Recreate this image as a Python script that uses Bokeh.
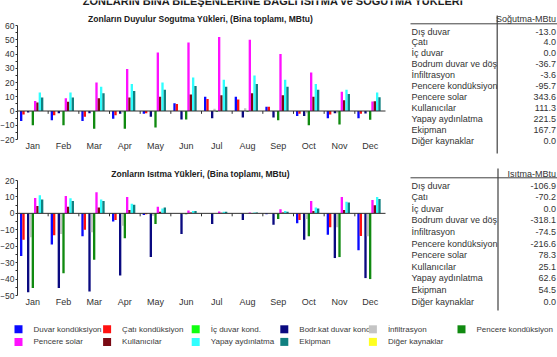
from bokeh.plotting import figure
from bokeh.models import (ColumnDataSource, Range1d, FixedTicker, LinearAxis, LinearScale)
from bokeh.transform import dodge
from bokeh.core.properties import value
from bokeh.embed import file_html
from bokeh.resources import INLINE

# ---------------------------------------------------------------- data
months = ["Jan", "Feb", "Mar", "Apr", "May", "Jun",
          "Jul", "Aug", "Sep", "Oct", "Nov", "Dec"]

legend_labels = ["Duvar kondüksiyon", "Çatı kondüksiyon", "İç duvar kond.",
                 "Bodr.kat duvar kond", "İnfiltrasyon", "Pencere kondüksiyon",
                 "Pencere solar", "Kullanıcılar", "Yapay aydınlatma", "Ekipman",
                 "Diğer kaynaklar"]

table_labels = ["Dış duvar", "Çatı", "İç duvar", "Bodrum duvar ve döş",
                "İnfiltrasyon", "Pencere kondüksiyon", "Pencere solar",
                "Kullanıcılar", "Yapay aydınlatma", "Ekipman", "Diğer kaynaklar"]

# sensible cooling loads by month (MBtu)
cool_duvar = [-7, -6.5, -7, -5.5, -2, 5.5, 10, 10, 3, -3.5, -5, -5]
cool_cati = [-2.5, -3, -4, -3, -1.5, 5, 8.5, 8, 3, -2, -2.5, -2]
cool_ic = [0] * 12
cool_bodrum = [-1, -1.5, -1.5, -2, -4, -6, -5, -4.5, -4.5, -3.5, -1.5, -1.7]
cool_infil = [-0.5, -0.5, -0.5, -1, -0.5, -0.5, 1.5, 2, -0.5, -1.5, -1.5, -0.1]
cool_pkond = [-10, -10, -12.5, -12.5, -11.5, -6, -0.5, -0.5, -6.5, -10, -9.5, -6.2]
cool_solar = [7, 9, 20, 29.5, 41, 48, 52, 50, 40, 27, 13.5, 6.6]
cool_kull = [6, 6.5, 9, 9.5, 10, 11.5, 11, 12.5, 11, 10, 7.5, 6.8]
cool_yapay = [13, 13, 17, 19, 20, 23.5, 22, 25, 22, 19, 15, 13]
cool_ekip = [9.5, 9.5, 12.5, 14, 15, 17.5, 17, 19, 17, 15, 12, 9.7]
cool_diger = [0] * 12

# heating loads by month (MBtu)
heat_duvar = [-26, -19, -14, -5, -1, 0, 0, 0, -0.5, -6, -13, -22.4]
heat_cati = [-16, -13.4, -10, -4, -0.5, 0, 0, 0, 0, -4, -8.5, -13.8]
heat_ic = [0] * 12
heat_bodrum = [-48, -45.5, -47.5, -37.8, -26.6, -12.6, -6.5, -4, -7, -16, -27.2, -39.4]
heat_infil = [-14.5, -12.5, -11.5, -7.5, -1.5, -0.5, 0, 0, -0.5, -3.5, -8.5, -14]
heat_pkond = [-45.5, -36.5, -28.3, -15.2, -6.5, -0.5, 0, 0, -3.5, -14, -26.6, -40]
heat_solar = [9.3, 10.5, 12.8, 10, 4, 1.8, 1.2, 0.5, 2.5, 7.5, 10, 8.2]
heat_kull = [4.5, 4, 3.6, 2, 1, 0.5, 0.3, 0.2, 0.5, 1.5, 2.0, 5]
heat_yapay = [11, 9.2, 8.5, 5.9, 3, 1.5, 1, 0.5, 1.5, 3.5, 7, 10]
heat_ekip = [8.4, 7.5, 7.5, 5.2, 3.5, 1.5, 1, 0.5, 1, 3, 6.6, 8.8]
heat_diger = [0] * 12

# annual totals shown in the side tables
cool_totals = [-13.0, 4.0, 0.0, -36.7, -3.6, -95.7, 343.6, 111.3, 221.5, 167.7, 0.0]
heat_totals = [-106.9, -70.2, 0.0, -318.1, -74.5, -216.6, 78.3, 25.1, 62.6, 54.5, 0.0]

cool_ticks = [-20, -10, 0, 10, 20, 30, 40, 50, 60]
heat_ticks = [-50, -40, -30, -20, -10, 0, 10, 20]

colors = ["#0a0aff", "#ff1010", "#10ff10", "#0a0a80", "#c4c4c4", "#108a10",
          "#ff10ff", "#7a0a14", "#30ffff", "#108080", "#ffff20"]

cool_series = [cool_duvar, cool_cati, cool_ic, cool_bodrum, cool_infil, cool_pkond,
               cool_solar, cool_kull, cool_yapay, cool_ekip, cool_diger]
heat_series = [heat_duvar, heat_cati, heat_ic, heat_bodrum, heat_infil, heat_pkond,
               heat_solar, heat_kull, heat_yapay, heat_ekip, heat_diger]

# ---------------------------------------------------------------- page geometry
W, H = 557, 357
FONT = value("Liberation Sans")
TXT = "#333333"
BAR_W = 0.076
PLOT_L, PLOT_R = 17, 385                     # page x of both chart areas
MONTH_PX = (PLOT_R - PLOT_L) / len(months)   # width of one month group
month_pos = [i + 0.5 for i in range(len(months))]


def page_range(v_top, px_top, v_bot, px_bot):
    """Value range that puts v_top at page row px_top and v_bot at px_bot."""
    k = (v_top - v_bot) / (px_bot - px_top)
    return Range1d(v_bot - (H - px_bot) * k, v_top + px_top * k)


p = figure(width=W, height=H, output_backend="svg", toolbar_location=None,
           title=None, min_border=0, x_axis_location=None, y_axis_location=None,
           x_range=Range1d(-PLOT_L / MONTH_PX, (W - PLOT_L) / MONTH_PX),
           y_range=Range1d(H, 0))
p.xgrid.visible = False
p.ygrid.visible = False
p.outline_line_color = None
# page-pixel x for the texts around the charts
p.extra_x_ranges = {"px": Range1d(0, W)}
p.extra_x_scales = {"px": LinearScale()}
p.extra_y_ranges = {"cool": page_range(60, 25, -20, 139),
                    "heat": page_range(20, 180, -50, 295)}
p.extra_y_scales = {"cool": LinearScale(), "heat": LinearScale()}


def draw_chart(name, series, lo, hi, ticks, tick_len):
    data = {"pos": month_pos}
    for i, vals in enumerate(series):
        data[f"s{i}"] = vals
    src = ColumnDataSource(data)
    for i, c in enumerate(colors):
        p.vbar(x=dodge("pos", (i - 5) * BAR_W), top=f"s{i}", bottom=0, width=BAR_W,
               source=src, fill_color=c, line_color=None, y_range_name=name)
    # zero line with small ticks between month groups
    p.segment(x0=[0], x1=[len(months)], y0=[0], y1=[0], line_color="#303030",
              line_width=1, y_range_name=name)
    tsrc = ColumnDataSource(dict(pos=month_pos[1:], y0=[0] * 11, y1=[-tick_len] * 11))
    p.segment(x0=dodge("pos", -0.5), x1=dodge("pos", -0.5), y0="y0", y1="y1",
              source=tsrc, line_color="#303030", line_width=1, y_range_name=name)

    ya = LinearAxis(y_range_name=name, fixed_location=0, bounds=(lo, hi),
                    ticker=FixedTicker(ticks=ticks, minor_ticks=[t + 5 for t in ticks[:-1]]))
    ya.axis_line_color = "#303030"
    ya.major_tick_line_color = "#303030"
    ya.minor_tick_line_color = "#303030"
    ya.major_tick_out = 2
    ya.major_tick_in = 0
    ya.minor_tick_out = 2
    ya.minor_tick_in = 0
    ya.major_label_standoff = 1
    ya.major_label_text_font = "Liberation Sans"
    ya.major_label_text_font_size = "8.5px"
    ya.major_label_text_color = TXT
    p.add_layout(ya, "left")

    xa = LinearAxis(y_range_name=name, fixed_location=lo,
                    ticker=FixedTicker(ticks=month_pos, minor_ticks=[]))
    xa.major_label_overrides = {pos: m for pos, m in zip(month_pos, months)}
    xa.axis_line_color = None
    xa.major_tick_line_color = None
    xa.minor_tick_line_color = None
    xa.major_tick_out = 0
    xa.major_tick_in = 0
    xa.minor_tick_out = 0
    xa.minor_tick_in = 0
    xa.major_label_standoff = 1
    xa.major_label_text_font = "Liberation Sans"
    xa.major_label_text_font_size = "9px"
    xa.major_label_text_color = TXT
    p.add_layout(xa, "below")


def text(xs, ys, texts, size="9px", align="left", color=TXT, style="normal",
         baseline="middle"):
    p.text(x=xs, y=ys, text=texts, x_range_name="px", text_font=FONT,
           text_font_size=value(size), text_align=align, text_baseline=baseline,
           text_color=color, text_font_style=style)


def draw_table(header, totals, head_y, line_y, first_y, step, vline_x, vline_top, vline_bot):
    ys = [first_y + i * step for i in range(len(table_labels))]
    text([411] * len(ys), ys, table_labels)
    text([555.5] * len(ys), ys, [f"{v:.1f}" for v in totals], align="right")
    text([555.5], [head_y], [header], align="right")
    p.segment(x0=[410], x1=[W], y0=[line_y], y1=[line_y], x_range_name="px",
              line_color="#404040", line_width=1)
    p.segment(x0=[vline_x], x1=[vline_x], y0=[vline_top], y1=[vline_bot], x_range_name="px",
              line_color="#404040", line_width=1.2)


# ---------------------------------------------------------------- drawing
# page heading, only its lower part lies inside the page
text([273], [0.5], ["ZONLARIN BİNA BİLEŞENLERİNE BAĞLI ISITMA ve SOĞUTMA YÜKLERİ"],
     size="11px", align="center", color="#202020", style="bold")

draw_chart("cool", cool_series, -20, 60, cool_ticks, 2.0)
text([200], [18.5], ["Zonların Duyulur Sogutma Yükleri, (Bina toplamı, MBtu)"],
     size="8.5px", align="center", color="#202020", style="bold")
draw_table("Soğutma-MBtu", cool_totals, 18, 23.3, 31, 10.9, 496.7, 15, 153)

draw_chart("heat", heat_series, -50, 20, heat_ticks, 1.8)
text([200], [173.5], ["Zonların Isıtma Yükleri, (Bina toplamı, MBtu)"],
     size="8.5px", align="center", color="#202020", style="bold")
draw_table("Isıtma-MBtu", heat_totals, 173, 177.3, 185, 11.6, 497.5, 168, 310)

# legend keys, two rows of six columns
key_x = [18 + 88.6 * (k % 6) for k in range(len(legend_labels))]
key_y = [328.8 if k < 6 else 341.4 for k in range(len(legend_labels))]
text([x + 15 for x in key_x], key_y, legend_labels, size="8px", color="#3a3a3a")
p.rect(x=key_x, y=key_y, width=8, height=8, x_range_name="px",
       fill_color=colors, line_color=None)

open("out.html", "w").write(file_html(p, INLINE))
